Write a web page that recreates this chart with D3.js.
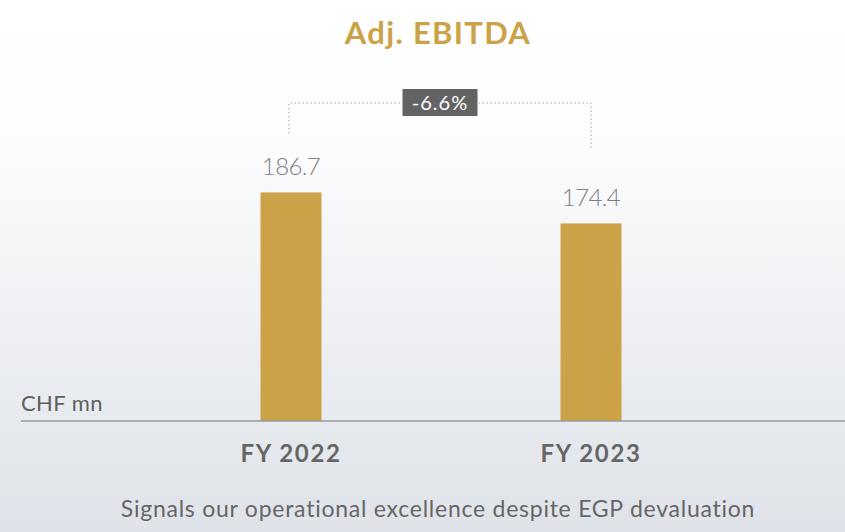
<!DOCTYPE html>
<html>
<head>
<meta charset="utf-8">
<script src="https://cdn.jsdelivr.net/npm/d3@7"></script>
<style>
    body { margin: 0; padding: 0; overflow: hidden; }
    svg { display: block; font-family: Lato, "Open Sans", sans-serif; }
</style>
</head>
<body>
<div id="chart"></div>
<script>
// data
var categories = ["FY 2022", "FY 2023"];
var values = [186.7, 174.4];
var valueLabels = ["186.7", "174.4"];
var changeLabel = "-6.6%";
var title = "Adj. EBITDA";
var unitLabel = "CHF mn";
var footnote = "Signals our operational excellence despite EGP devaluation";

var width = 845,
    height = 532,
    baseY = 421,
    barWidth = 61;

var gold = "#cba247",
    grey = "#666666";

var svg = d3.select("#chart").append("svg")
    .attr("width", width)
    .attr("height", height);

// background sky-ish gradient
var grad = svg.append("defs").append("linearGradient")
    .attr("id", "bg")
    .attr("x1", 0).attr("y1", 0).attr("x2", 0).attr("y2", 1);
grad.append("stop").attr("offset", "0%").attr("stop-color", "#ffffff");
grad.append("stop").attr("offset", "25%").attr("stop-color", "#fdfdfe");
grad.append("stop").attr("offset", "55%").attr("stop-color", "#f0f2f5");
grad.append("stop").attr("offset", "80%").attr("stop-color", "#e6e9ee");
grad.append("stop").attr("offset", "100%").attr("stop-color", "#dfe3e9");
svg.append("rect")
    .attr("width", width)
    .attr("height", height)
    .attr("fill", "url(#bg)");

var x = d3.scalePoint().domain(categories).range([291, 591]);
// axis doesn't start at zero in the original
var y = d3.scaleLinear().domain([96, 200]).range([baseY, baseY - 104 * 2.52]);

// title
svg.append("text")
    .attr("x", 438)
    .attr("y", 44)
    .attr("text-anchor", "middle")
    .style("font-size", "31px")
    .style("font-weight", "bold")
    .style("letter-spacing", "1.3px")
    .attr("fill", gold)
    .text(title);

// bars
svg.selectAll(".bar")
    .data(values)
    .enter().append("rect")
    .attr("class", "bar")
    .attr("x", function (d, i) { return x(categories[i]) - barWidth / 2; })
    .attr("y", function (d) { return y(d); })
    .attr("width", barWidth)
    .attr("height", function (d) { return baseY - y(d); })
    .attr("fill", "#cba247");

// value labels
svg.selectAll(".val")
    .data(values)
    .enter().append("text")
    .attr("class", "val")
    .attr("x", function (d, i) { return x(categories[i]); })
    .attr("y", function (d) { return y(d) - 17; })
    .attr("text-anchor", "middle")
    .style("font-size", "24px")
    .style("font-weight", 300)
    .style("letter-spacing", "-0.6px")
    .attr("fill", "#7f7f7f")
    .text(function (d, i) { return valueLabels[i]; });

// baseline
svg.append("line")
    .attr("x1", 21).attr("x2", width)
    .attr("y1", baseY).attr("y2", baseY)
    .attr("stroke", "#9a9a9a")
    .attr("stroke-width", 1.5);

svg.append("text")
    .attr("x", 21)
    .attr("y", 411)
    .style("font-size", "22px")
    .style("letter-spacing", "0.4px")
    .attr("fill", "#5f5f5f")
    .text(unitLabel);

// category labels
svg.selectAll(".cat")
    .data(categories)
    .enter().append("text")
    .attr("class", "cat")
    .attr("x", function (d) { return x(d); })
    .attr("y", 462)
    .attr("text-anchor", "middle")
    .style("font-size", "24px")
    .style("font-weight", "bold")
    .style("letter-spacing", "1.6px")
    .attr("fill", grey)
    .text(function (d) { return d; });

// change bracket
var bracketY = 103;
var x0 = x(categories[0]) - 2, x1 = x(categories[1]);
svg.append("path")
    .attr("d", "M" + x0 + "," + (y(values[0]) - 59) + "V" + bracketY + "H" + x1 + "V" + (y(values[1]) - 73))
    .attr("fill", "none")
    .attr("stroke", "#a8a8a8")
    .attr("stroke-width", 1)
    .attr("stroke-dasharray", "1.5,2.5");

var mid = (x0 + x1) / 2;
svg.append("rect")
    .attr("x", mid - 37.5)
    .attr("y", 89)
    .attr("width", 75)
    .attr("height", 27)
    .attr("fill", "#636363");
svg.append("text")
    .attr("x", mid)
    .attr("y", 110)
    .attr("text-anchor", "middle")
    .style("font-size", "20px")
    .style("letter-spacing", "1px")
    .attr("fill", "#ffffff")
    .text(changeLabel);

// footnote
svg.append("text")
    .attr("x", 438)
    .attr("y", 517)
    .attr("text-anchor", "middle")
    .style("font-size", "23px")
    .style("letter-spacing", "0.75px")
    .attr("fill", grey)
    .text(footnote);
</script>
</body>
</html>
